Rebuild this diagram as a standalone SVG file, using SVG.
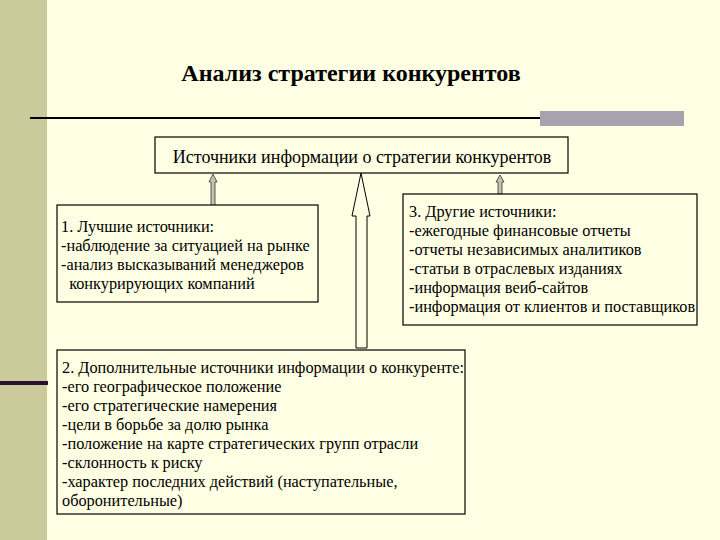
<svg xmlns="http://www.w3.org/2000/svg" width="720" height="540" viewBox="0 0 720 540">
<style>
.box{fill:#FFFFE3;stroke:#000;stroke-width:1.2}
.sa{fill:#C4C4AC;stroke:#333;stroke-width:0.8}
</style>
<rect x="0" y="0" width="720" height="540" fill="#FFFFE3"/>
<rect x="0" y="0" width="47" height="540" fill="#CACA9A"/>
<rect x="0" y="381" width="48" height="4" fill="#2A1030"/>
<text x="351" y="81" font-family="Liberation Serif, serif" font-size="24" font-weight="bold" text-anchor="middle">Анализ стратегии конкурентов</text>
<rect x="540" y="111" width="144" height="15" fill="#A8A2AE"/>
<line x1="30" y1="118" x2="540" y2="118" stroke="#000" stroke-width="2"/>
<g id="top">
<rect class="box" x="155" y="137" width="413" height="36"/>
<text x="362" y="163" font-family="Liberation Serif, serif" font-size="18" text-anchor="middle">Источники информации о стратегии конкурентов</text>
</g>
<g id="connectors">
<path class="sa" d="M213,174 L217,182 L215,182 L215,206 L211,206 L211,182 L209,182 Z"/>
<path class="sa" d="M500,175 L504,182 L502,182 L502,194 L498,194 L498,182 L496,182 Z"/>
<path d="M361,173 L370,216 L367,216 L367,348 L356,348 L356,216 L352,216 Z" fill="#FFFFE3" stroke="#000" stroke-width="1"/>
</g>
<g id="box1" font-family="Liberation Serif, serif" font-size="16.3">
<rect class="box" x="57" y="205" width="261" height="97"/>
<text x="61" y="232">1. Лучшие источники:</text>
<text x="61" y="251">-наблюдение за ситуацией на рынке</text>
<text x="61" y="270">-анализ высказываний менеджеров</text>
<text x="61" y="289" xml:space="preserve">  конкурирующих компаний</text>
</g>
<g id="box3" font-family="Liberation Serif, serif" font-size="16.3">
<rect class="box" x="403" y="194" width="294" height="131"/>
<text x="409" y="217">3. Другие источники:</text>
<text x="409" y="236">-ежегодные финансовые отчеты</text>
<text x="409" y="255">-отчеты независимых аналитиков</text>
<text x="409" y="274">-статьи в отраслевых изданиях</text>
<text x="409" y="293">-информация веиб-сайтов</text>
<text x="409" y="312">-информация от клиентов и поставщиков</text>
</g>
<g id="box2" font-family="Liberation Serif, serif" font-size="16.3">
<rect class="box" x="57" y="350" width="408" height="164"/>
<text x="62" y="373">2. Дополнительные источники информации о конкуренте:</text>
<text x="62" y="392">-его географическое положение</text>
<text x="62" y="411">-его стратегические намерения</text>
<text x="62" y="430">-цели в борьбе за долю рынка</text>
<text x="62" y="449">-положение на карте стратегических групп отрасли</text>
<text x="62" y="468">-склонность к риску</text>
<text x="62" y="487">-характер последних действий (наступательные,</text>
<text x="62" y="506">оборонительные)</text>
</g>
</svg>
